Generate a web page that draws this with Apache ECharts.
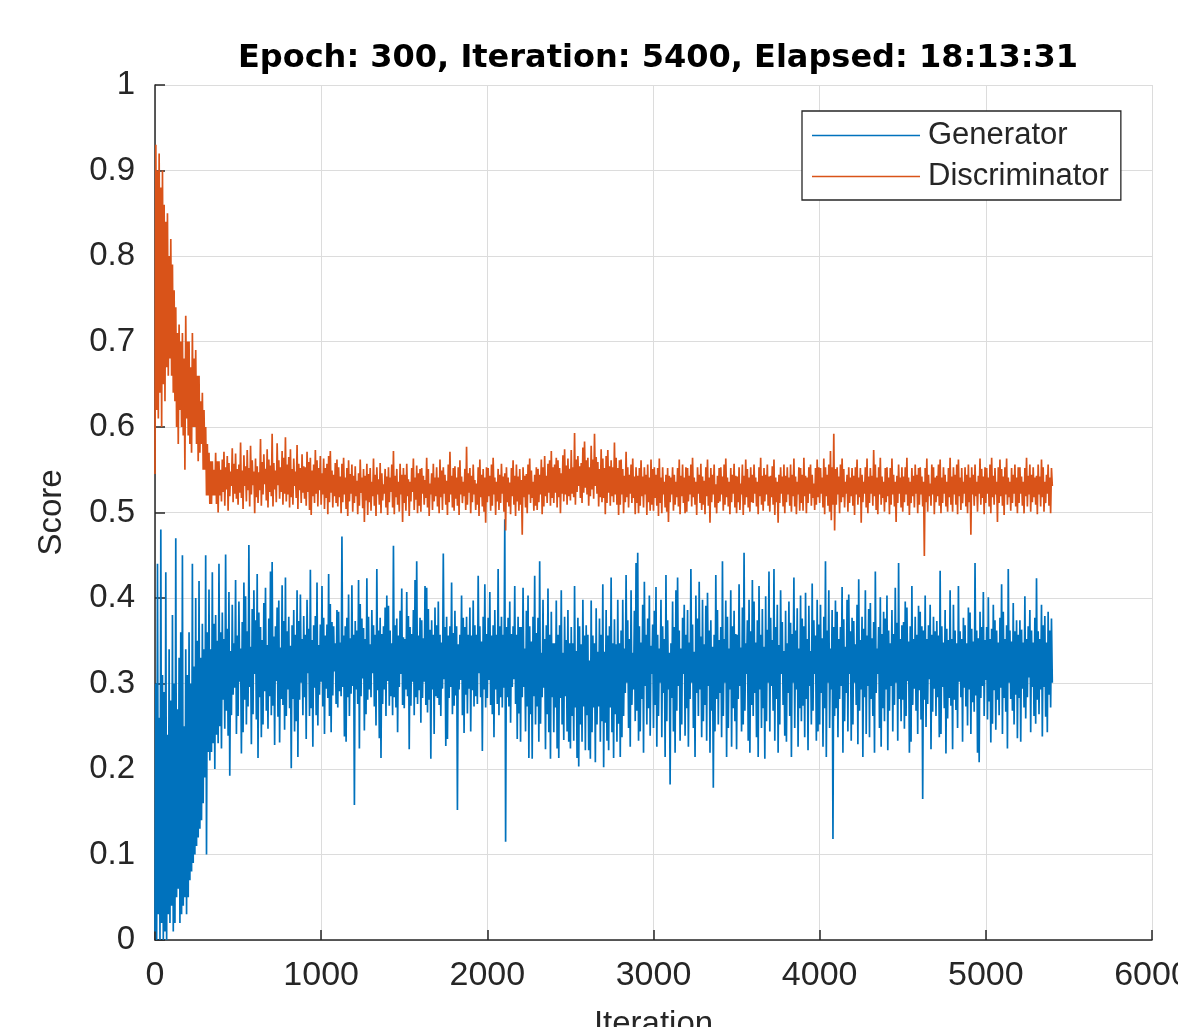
<!DOCTYPE html>
<html>
<head>
<meta charset="utf-8">
<script src="https://cdn.jsdelivr.net/npm/echarts@6/dist/echarts.min.js"></script>
<style>
html,body{margin:0;padding:0;background:#fff;}
#chart{width:1178px;height:1027px;}
</style>
</head>
<body>
<div id="chart"></div>
<script>
// Iteration spacing of the sampled points (one value every 5 iterations, 0..5400)
const iterStep = 5;
const xTicks = [0, 1000, 2000, 3000, 4000, 5000, 6000];
const yTicks = [0, 0.1, 0.2, 0.3, 0.4, 0.5, 0.6, 0.7, 0.8, 0.9, 1];
const seriesNames = ['Generator', 'Discriminator'];

const generator = [
.01,.30,.00,.44,.03,.26,.00,.48,.02,.31,.00,.29,.01,.43,.00,.24,.03,.34,.02,.28,
.04,.38,.01,.30,.02,.47,.05,.27,.06,.33,.02,.36,.03,.45,.04,.25,.05,.34,.03,.31,
.05,.36,.07,.30,.08,.44,.09,.32,.10,.40,.11,.35,.12,.42,.13,.33,.14,.37,.16,.34,
.19,.45,.10,.36,.22,.41,.21,.34,.22,.43,.23,.37,.20,.38,.24,.35,.23,.44,.25,.36,
.224,.383,.281,.352,.247,.451,.268,.364,.239,.407,.192,.338,.263,.392,.287,.347,.295,.421,.241,.356,
.262,.396,.302,.341,.218,.372,.243,.418,.281,.402,.252,.361,.273,.462,.296,.343,.229,.387,.264,.409,
.311,.374,.258,.428,.213,.383,.284,.366,.237,.351,.252,.394,.291,.412,.268,.345,.247,.376,.285,.431,
.263,.442,.274,.355,.228,.367,.303,.389,.261,.397,.231,.342,.282,.415,.275,.373,.246,.424,.262,.361,
.293,.378,.271,.344,.201,.368,.282,.386,.244,.357,.256,.409,.214,.373,.281,.404,.301,.352,.263,.379,
.284,.357,.235,.398,.312,.364,.262,.433,.271,.351,.226,.368,.295,.379,.263,.418,.251,.345,.287,.369,
.302,.414,.273,.377,.241,.356,.294,.369,.283,.428,.262,.393,.243,.372,.286,.367,.314,.347,.276,.386,
.272,.384,.291,.348,.285,.472,.296,.356,.238,.367,.232,.377,.284,.404,.262,.353,.288,.415,.297,.357,
.158,.373,.293,.362,.276,.421,.224,.393,.285,.376,.306,.365,.245,.352,.264,.423,.281,.378,.293,.346,
.284,.386,.312,.368,.273,.357,.251,.434,.292,.362,.236,.377,.213,.358,.276,.367,.293,.389,.262,.403,
.303,.391,.274,.362,.285,.347,.263,.461,.284,.368,.272,.376,.243,.356,.296,.385,.311,.411,.275,.354,
.271,.352,.293,.407,.285,.379,.223,.366,.274,.358,.302,.386,.263,.421,.284,.443,.276,.356,.292,.377,
.254,.374,.283,.353,.302,.414,.275,.412,.266,.387,.281,.363,.212,.374,.293,.357,.241,.389,.285,.368,
.283,.396,.275,.357,.262,.348,.294,.452,.305,.366,.227,.378,.235,.356,.283,.367,.296,.418,.264,.359,
.274,.385,.286,.367,.152,.346,.293,.357,.304,.403,.263,.377,.242,.366,.287,.378,.265,.357,.294,.389,
.244,.356,.292,.397,.273,.368,.285,.357,.276,.426,.312,.367,.284,.349,.221,.378,.293,.416,.272,.358,
.283,.377,.304,.407,.275,.356,.264,.368,.237,.386,.293,.357,.276,.434,.263,.367,.284,.378,.272,.357,
.295,.492,.115,.366,.284,.377,.273,.396,.254,.358,.296,.367,.305,.414,.276,.357,.235,.378,.265,.366,
.232,.366,.284,.412,.296,.341,.244,.385,.273,.403,.213,.367,.264,.349,.212,.378,.285,.426,.252,.359,
.273,.377,.232,.443,.253,.336,.284,.398,.295,.352,.223,.368,.264,.411,.243,.357,.212,.384,.284,.347,
.243,.347,.272,.397,.224,.357,.213,.368,.283,.409,.252,.336,.234,.378,.285,.351,.244,.386,.232,.347,
.224,.366,.262,.347,.233,.414,.272,.338,.213,.377,.203,.367,.252,.346,.232,.398,.273,.356,.222,.368,
.263,.357,.222,.327,.212,.397,.243,.356,.272,.347,.208,.388,.252,.337,.273,.376,.232,.357,.256,.416,
.202,.337,.254,.386,.233,.356,.222,.367,.272,.424,.243,.347,.213,.375,.264,.346,.232,.398,.253,.347,
.214,.362,.237,.398,.262,.341,.289,.427,.301,.374,.248,.352,.226,.409,.275,.336,.293,.385,.256,.441,
.268,.453,.233,.367,.244,.348,.282,.392,.219,.419,.297,.357,.252,.376,.271,.403,.239,.344,.311,.369,
.248,.385,.275,.413,.226,.357,.262,.341,.301,.398,.237,.367,.289,.352,.214,.427,.256,.374,.293,.336,
.182,.347,.283,.396,.244,.366,.219,.409,.268,.424,.297,.362,.233,.341,.252,.377,.311,.392,.239,.357,
.271,.386,.226,.348,.282,.434,.301,.369,.248,.337,.214,.403,.289,.376,.262,.419,.293,.355,.237,.398,
.256,.346,.275,.391,.233,.406,.297,.362,.219,.374,.268,.343,.178,.357,.244,.427,.282,.386,.252,.351,
.289,.366,.237,.443,.262,.352,.301,.397,.214,.378,.248,.341,.293,.409,.226,.367,.271,.385,.256,.358,
.223,.357,.282,.416,.297,.342,.244,.389,.252,.453,.268,.347,.311,.374,.233,.398,.219,.361,.275,.421,
.262,.396,.289,.348,.237,.374,.214,.414,.293,.357,.248,.387,.271,.343,.212,.402,.256,.363,.301,.431,
.244,.377,.297,.351,.268,.434,.233,.366,.282,.392,.219,.345,.252,.409,.311,.372,.275,.338,.239,.385,
.232,.347,.289,.396,.262,.371,.214,.358,.301,.424,.248,.362,.293,.388,.226,.341,.271,.403,.256,.376,
.274,.367,.237,.406,.282,.352,.222,.391,.297,.338,.252,.417,.268,.374,.311,.356,.233,.398,.244,.369,
.252,.392,.289,.353,.226,.378,.271,.443,.214,.362,.301,.409,.248,.341,.293,.386,.118,.366,.262,.397,
.271,.384,.237,.352,.282,.366,.297,.413,.219,.375,.256,.343,.289,.398,.244,.404,.311,.361,.233,.377,
.252,.373,.301,.346,.275,.392,.229,.422,.268,.351,.293,.378,.214,.364,.284,.409,.241,.356,.297,.387,
.237,.394,.282,.353,.262,.372,.219,.431,.289,.341,.311,.366,.248,.401,.226,.358,.271,.384,.256,.376,
.293,.403,.222,.362,.268,.347,.297,.386,.244,.358,.275,.412,.301,.371,.233,.441,.282,.352,.256,.368,
.281,.372,.247,.396,.262,.389,.303,.349,.219,.367,.232,.414,.275,.352,.294,.378,.268,.357,.241,.391,
.292,.384,.258,.367,.165,.362,.281,.403,.249,.352,.276,.368,.305,.392,.223,.357,.267,.378,.294,.361,
.262,.373,.284,.356,.237,.432,.241,.367,.296,.348,.271,.386,.218,.364,.259,.351,.283,.409,.274,.352,
.223,.392,.281,.362,.269,.347,.248,.414,.302,.361,.284,.352,.232,.377,.295,.368,.273,.347,.251,.389,
.293,.383,.241,.364,.278,.349,.267,.441,.286,.362,.219,.353,.208,.384,.283,.366,.297,.407,.262,.351,
.304,.366,.258,.401,.279,.352,.231,.364,.253,.392,.292,.374,.246,.362,.281,.348,.263,.377,.295,.416,
.241,.384,.283,.352,.267,.368,.224,.434,.301,.362,.282,.349,.268,.394,.252,.361,.287,.374,.236,.357,
.283,.374,.232,.363,.294,.348,.272,.402,.259,.352,.284,.367,.307,.386,.243,.362,.296,.348,.262,.377,
.253,.423,.281,.361,.264,.352,.293,.392,.238,.368,.296,.379,.261,.348,.243,.384,.287,.362,.272,.376,
.301
];

const discriminator = [
.545,.93,.62,.90,.61,.92,.64,.88,.60,.90,.65,.86,.63,.84,.67,.85,.66,.80,.68,.82,
.66,.79,.64,.76,.63,.74,.60,.71,.58,.72,.62,.70,.60,.71,.59,.68,.55,.73,.61,.70,
.59,.70,.58,.67,.57,.71,.60,.68,.60,.69,.58,.66,.56,.66,.57,.63,.58,.64,.55,.62,
.55,.60,.52,.58,.52,.57,.51,.56,.51,.56,.52,.55,.52,.57,.51,.56,.50,.56,.52,.55,
.513,.562,.524,.571,.508,.553,.527,.566,.502,.558,.519,.548,.531,.575,.512,.557,.522,.569,.516,.551,
.509,.556,.523,.582,.517,.549,.504,.567,.531,.554,.513,.573,.526,.552,.507,.578,.521,.561,.532,.548,
.499,.563,.518,.554,.511,.547,.526,.586,.508,.559,.521,.568,.533,.551,.514,.574,.506,.562,.524,.555,
.519,.592,.507,.558,.527,.549,.512,.581,.532,.561,.516,.553,.524,.572,.509,.564,.522,.588,.513,.556,
.521,.565,.506,.574,.518,.551,.509,.563,.531,.548,.517,.579,.504,.557,.526,.552,.511,.568,.523,.554,
.516,.553,.508,.571,.524,.559,.503,.564,.497,.549,.519,.556,.511,.573,.522,.561,.507,.552,.526,.566,
.509,.546,.521,.563,.504,.552,.517,.557,.498,.566,.512,.572,.523,.549,.506,.544,.519,.558,.511,.562,
.507,.553,.518,.542,.499,.557,.512,.564,.521,.541,.504,.552,.496,.561,.513,.545,.522,.556,.501,.543,
.511,.554,.519,.537,.498,.546,.508,.562,.523,.541,.505,.551,.489,.543,.514,.557,.497,.545,.512,.552,
.502,.536,.519,.563,.508,.544,.496,.553,.521,.539,.509,.558,.499,.546,.514,.533,.522,.551,.506,.542,
.497,.553,.512,.541,.524,.556,.506,.572,.498,.543,.518,.551,.509,.536,.501,.557,.521,.544,.489,.552,
.511,.544,.502,.557,.519,.539,.496,.536,.513,.552,.524,.563,.503,.541,.515,.555,.499,.546,.508,.551,
.501,.552,.522,.543,.509,.538,.517,.564,.506,.551,.496,.534,.521,.546,.503,.557,.513,.541,.519,.553,
.507,.541,.499,.562,.518,.549,.503,.553,.522,.544,.509,.537,.497,.556,.512,.571,.521,.543,.506,.552,
.502,.554,.516,.541,.508,.553,.497,.561,.521,.542,.511,.536,.519,.551,.503,.577,.509,.546,.523,.552,
.499,.543,.512,.556,.521,.538,.503,.534,.509,.553,.496,.562,.518,.544,.507,.551,.501,.541,.488,.553,
.512,.552,.519,.543,.502,.556,.508,.564,.521,.541,.497,.536,.513,.551,.503,.544,.511,.557,.522,.542,
.501,.546,.479,.553,.512,.541,.507,.535,.498,.552,.519,.561,.509,.543,.496,.556,.513,.542,.502,.551,
.509,.538,.474,.553,.518,.543,.506,.545,.499,.556,.521,.563,.511,.549,.517,.536,.502,.544,.508,.553,
.503,.551,.512,.544,.521,.562,.498,.553,.507,.566,.519,.543,.511,.557,.523,.561,.508,.572,.517,.553,
.511,.556,.523,.564,.506,.561,.518,.552,.499,.546,.522,.567,.513,.574,.521,.555,.509,.563,.519,.551,
.514,.573,.522,.553,.518,.593,.509,.562,.524,.566,.531,.554,.517,.558,.511,.576,.523,.583,.529,.561,
.521,.564,.508,.553,.519,.578,.527,.562,.516,.592,.531,.565,.522,.559,.507,.551,.518,.574,.512,.563,
.517,.552,.498,.566,.511,.573,.523,.554,.508,.561,.519,.553,.512,.582,.521,.564,.509,.552,.497,.561,
.509,.562,.521,.551,.499,.543,.512,.571,.518,.553,.506,.544,.522,.556,.511,.563,.517,.542,.498,.553,
.511,.543,.499,.552,.508,.561,.519,.542,.506,.553,.521,.544,.497,.556,.512,.541,.502,.562,.509,.551,
.502,.553,.517,.544,.508,.552,.496,.563,.511,.541,.499,.553,.521,.536,.506,.544,.501,.552,.489,.543,
.512,.541,.521,.553,.502,.544,.509,.536,.518,.552,.507,.562,.498,.543,.519,.556,.511,.541,.499,.553,
.501,.552,.513,.543,.521,.556,.507,.564,.518,.541,.509,.536,.497,.553,.522,.544,.511,.557,.503,.542,
.509,.537,.498,.553,.519,.562,.508,.541,.488,.552,.512,.544,.521,.556,.506,.533,.499,.543,.511,.552,
.513,.553,.521,.542,.502,.556,.509,.563,.518,.541,.507,.536,.498,.552,.512,.544,.522,.557,.506,.543,
.499,.542,.512,.553,.503,.534,.521,.556,.497,.543,.509,.562,.518,.551,.506,.541,.501,.553,.512,.544,
.511,.556,.522,.541,.507,.536,.498,.553,.519,.564,.509,.543,.502,.552,.513,.544,.521,.556,.508,.542,
.501,.543,.518,.554,.509,.562,.497,.541,.512,.536,.488,.544,.511,.553,.522,.542,.507,.556,.499,.543,
.512,.553,.521,.541,.508,.556,.501,.544,.519,.563,.507,.542,.498,.536,.521,.553,.502,.552,.511,.544,
.502,.564,.519,.543,.499,.541,.511,.553,.522,.556,.508,.544,.517,.534,.503,.552,.509,.562,.518,.553,
.511,.552,.522,.541,.506,.563,.498,.553,.519,.544,.508,.556,.501,.572,.491,.553,.509,.592,.479,.551,
.509,.553,.521,.542,.499,.556,.512,.563,.518,.551,.506,.536,.522,.544,.501,.553,.511,.541,.519,.552,
.508,.543,.497,.553,.521,.562,.509,.541,.518,.552,.488,.544,.512,.536,.522,.553,.506,.563,.499,.542,
.511,.552,.522,.543,.508,.573,.519,.556,.503,.541,.498,.553,.521,.564,.509,.542,.517,.536,.501,.552,
.512,.553,.519,.541,.498,.552,.509,.563,.521,.544,.507,.536,.489,.543,.511,.556,.522,.541,.506,.553,
.501,.542,.512,.553,.521,.564,.508,.541,.497,.536,.511,.552,.519,.543,.506,.556,.522,.544,.499,.552,
.509,.553,.521,.542,.507,.536,.449,.552,.512,.563,.501,.544,.519,.534,.508,.556,.521,.553,.498,.541,
.512,.543,.519,.556,.508,.562,.499,.541,.511,.553,.522,.544,.507,.536,.501,.552,.518,.564,.509,.542,
.501,.553,.521,.544,.509,.556,.498,.562,.519,.541,.503,.552,.511,.536,.522,.553,.507,.544,.499,.556,
.512,.541,.474,.553,.521,.544,.508,.556,.519,.536,.501,.543,.522,.563,.509,.551,.517,.542,.498,.553,
.511,.552,.522,.541,.507,.556,.499,.564,.518,.543,.509,.552,.521,.536,.489,.553,.511,.562,.519,.551,
.508,.542,.497,.553,.521,.563,.509,.541,.518,.536,.502,.552,.511,.544,.522,.556,.507,.541,.499,.553,
.511,.553,.522,.542,.508,.536,.499,.552,.519,.564,.507,.543,.521,.556,.501,.544,.512,.553,.518,.541,
.509,.543,.498,.556,.521,.542,.507,.562,.518,.553,.501,.536,.511,.544,.522,.556,.508,.541,.499,.552,
.531
];

const toPairs = arr => arr.map((v, i) => [i * iterStep, v]);
const textColor = '#262626';
const fontFam = '"Liberation Sans", Arial, Helvetica, sans-serif';

const chart = echarts.init(document.getElementById('chart'), null, {renderer: 'canvas'});
chart.setOption({
  animation: false,
  backgroundColor: '#fff',
  title: {
    text: 'Epoch: 300, Iteration: 5400, Elapsed: 18:13:31',
    left: 653, top: 38, textAlign: 'center',
    textStyle: {fontFamily: '"DejaVu Sans", sans-serif', fontSize: 32, fontWeight: 'bold', color: '#000'}
  },
  legend: {
    left: 802, top: 111,
    orient: 'vertical',
    icon: 'rect',
    itemWidth: 108, itemHeight: 1.5,
    itemGap: 10,
    padding: [9, 12, 8, 10],
    borderColor: '#262626', borderWidth: 1.3,
    backgroundColor: '#fff',
    textStyle: {fontFamily: fontFam, fontSize: 31, lineHeight: 31, color: textColor, padding: [0, 0, 0, 3]},
    data: seriesNames
  },
  grid: {left: 155, right: 26, top: 85, bottom: 87, containLabel: false, outerBoundsMode: 'none'},
  xAxis: {
    type: 'value', min: xTicks[0], max: xTicks[xTicks.length - 1], interval: 1000,
    name: 'Iteration', nameLocation: 'middle', nameGap: 68,
    nameTextStyle: {fontFamily: fontFam, fontSize: 33, color: textColor},
    axisLine: {show: true, onZero: false, lineStyle: {color: textColor, width: 1.5}},
    axisTick: {show: true, inside: true, length: 10, lineStyle: {color: textColor, width: 1.5}},
    axisLabel: {fontFamily: fontFam, fontSize: 34, color: textColor, margin: 19, showMaxLabel: true,
      formatter: v => String(v)},
    splitLine: {show: true, lineStyle: {color: '#dcdcdc', width: 1}}
  },
  yAxis: {
    type: 'value', min: yTicks[0], max: yTicks[yTicks.length - 1], interval: 0.1,
    name: 'Score', nameLocation: 'middle', nameGap: 87, nameRotate: 90,
    nameTextStyle: {fontFamily: fontFam, fontSize: 33, color: textColor},
    axisLine: {show: true, onZero: false, lineStyle: {color: textColor, width: 1.5}},
    axisTick: {show: true, inside: true, length: 10, lineStyle: {color: textColor, width: 1.5}},
    axisLabel: {fontFamily: fontFam, fontSize: 33, color: textColor, margin: 20,
      formatter: v => String(Math.round(v * 10) / 10)},
    splitLine: {show: true, lineStyle: {color: '#dcdcdc', width: 1}}
  },
  series: [
    {
      name: seriesNames[0], type: 'line', data: toPairs(generator),
      showSymbol: false, symbol: 'none', sampling: null,
      lineStyle: {color: '#0072BD', width: 1.7}, itemStyle: {color: '#0072BD'},
      z: 3
    },
    {
      name: seriesNames[1], type: 'line', data: toPairs(discriminator),
      showSymbol: false, symbol: 'none', sampling: null,
      lineStyle: {color: '#D95319', width: 1.7}, itemStyle: {color: '#D95319'},
      z: 4
    }
  ]
});
</script>
</body>
</html>
